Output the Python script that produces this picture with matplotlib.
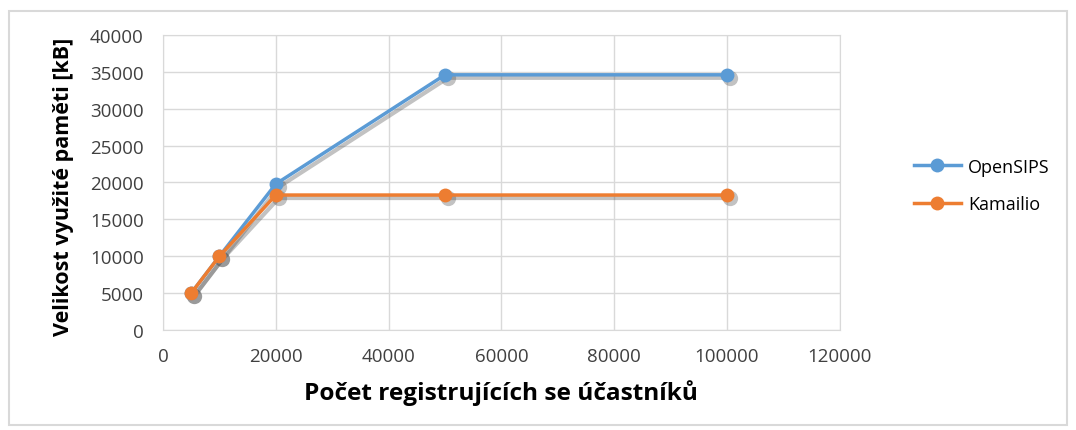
import matplotlib.pyplot as plt
from matplotlib.transforms import offset_copy
from matplotlib.patches import Rectangle

plt.rcParams['font.family'] = ['Open Sans', 'DejaVu Sans']

users = [5000, 10000, 20000, 50000, 100000]
opensips = [5000, 10000, 19800, 34600, 34600]
kamailio = [5000, 10000, 18300, 18300, 18300]
series_names = ['OpenSIPS', 'Kamailio']
colors = ['#5b9bd5', '#ed7d31']

fig = plt.figure(figsize=(10.76, 4.31), dpi=100)
fig.patches.append(Rectangle((0.008, 0.012), 0.984, 0.96, transform=fig.transFigure,
                             fill=False, edgecolor='#d9d9d9', linewidth=1.5))
ax = fig.add_axes([0.1515, 0.232, 0.629, 0.6845])

# soft drop shadow, shifted a few pixels right/down
shadow_tr = offset_copy(ax.transData, fig=fig, x=3, y=-3, units='dots')
for vals, name, c in zip([opensips, kamailio], series_names, colors):
    ax.plot(users, vals, color='#505050', lw=3, marker='o', markersize=11, mew=0,
            alpha=0.35, transform=shadow_tr, zorder=2)
    ax.plot(users, vals, color=c, lw=2.5, marker='o', markersize=10, mew=0,
            label=name, zorder=3)

ax.set_xlim(0, 120000)
ax.set_ylim(0, 40000)
ax.set_xticks(range(0, 120001, 20000))
ax.set_yticks(range(0, 40001, 5000))
ax.grid(True, color='#d9d9d9', lw=1)
ax.set_axisbelow(True)
for s in ax.spines.values():
    s.set_color('#d9d9d9')
ax.tick_params(length=0, labelsize=13.5, colors='#404040')
ax.tick_params(axis='y', pad=14)
ax.tick_params(axis='x', pad=12)

ax.set_xlabel('Počet registrujících se účastníků', fontsize=17.6, fontweight='bold')
ax.set_ylabel('Velikost využité paměti [kB]', fontsize=15.5, fontweight='bold')
ax.xaxis.set_label_coords(0.5, -0.168)
ax.yaxis.set_label_coords(-0.131, 0.49)

ax.legend(loc='center left', bbox_to_anchor=(1.085, 0.49), frameon=False, fontsize=13,
          labelspacing=1.1, handlelength=2.6, handletextpad=0.4)

plt.savefig('out.png')
